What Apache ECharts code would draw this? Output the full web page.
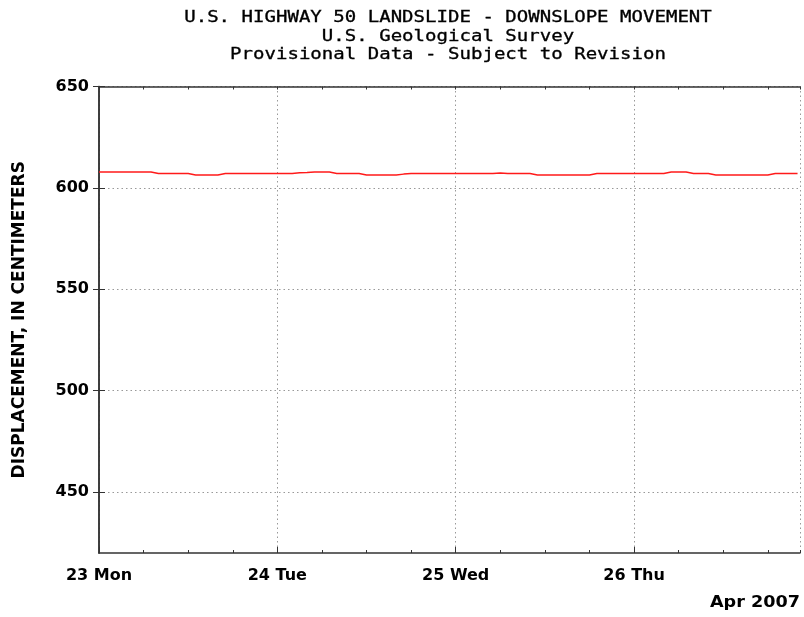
<!DOCTYPE html>
<html>
<head>
<meta charset="utf-8">
<title>U.S. Highway 50 Landslide - Downslope Movement</title>
<script src="https://cdn.jsdelivr.net/npm/echarts@6/dist/echarts.min.js"></script>
<style>
  html, body { margin: 0; padding: 0; background: #fff; }
  #chart { width: 804px; height: 617px; }
</style>
</head>
<body>
<div id="chart"></div>
<script>
// Hourly readings starting 23 Apr 2007 00:00 (index = hours since start)
const startLabel = '2007-04-23 00:00';
const displacementCm = [
  607.8, 607.8, 607.8, 607.8, 607.8, 607.8, 607.8, 607.8,
  607.1, 607.1, 607.1, 607.1, 607.1,
  606.4, 606.4, 606.4, 606.4,
  607.1, 607.1, 607.1, 607.1, 607.1, 607.1, 607.1, 607.1, 607.1, 607.1,
  607.5, 607.6,
  607.8, 607.8, 607.8,
  607.1, 607.1, 607.1, 607.1,
  606.4, 606.4, 606.4, 606.4, 606.4,
  606.8,
  607.1, 607.1, 607.1, 607.1, 607.1, 607.1, 607.1, 607.1, 607.1, 607.1, 607.1, 607.1,
  607.4,
  607.1, 607.1, 607.1, 607.1,
  606.4, 606.4, 606.4, 606.4, 606.4, 606.4, 606.4, 606.4,
  607.1, 607.1, 607.1, 607.1, 607.1, 607.1, 607.1, 607.1, 607.1, 607.1,
  607.8, 607.8, 607.8,
  607.1, 607.1, 607.1,
  606.4, 606.4, 606.4, 606.4, 606.4, 606.4, 606.4, 606.4,
  607.1, 607.1, 607.1, 607.1
];
const dayLabels = ['23 Mon', '24 Tue', '25 Wed', '26 Thu'];
const yTickValues = [450, 500, 550, 600, 650];
const titleLines = [
  'U.S. HIGHWAY 50 LANDSLIDE - DOWNSLOPE MOVEMENT',
  'U.S. Geological Survey',
  'Provisional Data - Subject to Revision'
];
const monthLabel = 'Apr 2007';
const yAxisTitle = 'DISPLACEMENT, IN CENTIMETERS';

const xMaxHours = 94.33;   // window ends 26 Apr ~22:20
const yMin = 420, yMax = 650;

const seriesData = displacementCm.map((v, h) => [h, v]);

const labelFont = { fontFamily: 'DejaVu Sans', fontWeight: 'bold', fontSize: 16, color: '#000' };
const dotted = { color: '#999', width: 1, type: [1.5, 3] };
const frame = { color: '#333', width: 1.5 };

const chart = echarts.init(document.getElementById('chart'), null, { renderer: 'canvas' });

const titleGraphics = titleLines.map((t, i) => ({
  type: 'text',
  x: 448,
  y: 18.5 + i * 18.3,
  scaleX: 1.27,
  style: {
    text: t,
    font: '15px "DejaVu Sans Mono"',
    fill: '#000',
    stroke: '#000',
    lineWidth: 0.3,
    align: 'center',
    verticalAlign: 'middle'
  }
}));

chart.setOption({
  animation: false,
  backgroundColor: '#fff',
  grid: { left: 99, right: 4, top: 86.5, bottom: 64, containLabel: false },
  xAxis: [
    {
      type: 'value', position: 'bottom', min: 0, max: xMaxHours, interval: 24,
      axisLine: { show: true, lineStyle: frame },
      axisTick: { show: true, inside: true, length: 6, lineStyle: { color: '#333', width: 1 } },
      axisLabel: {
        ...labelFont, margin: 15, showMaxLabel: false,
        formatter: v => (v % 24 === 0 && dayLabels[v / 24]) ? dayLabels[v / 24] : ''
      },
      splitLine: { show: true, lineStyle: dotted }
    },
    {
      type: 'value', position: 'bottom', min: 0, max: xMaxHours, interval: 6,
      axisLine: { show: false },
      axisTick: { show: true, inside: true, length: 3, lineStyle: { color: '#333', width: 1 } },
      axisLabel: { show: false },
      splitLine: { show: false }
    },
    {
      type: 'value', position: 'top', min: 0, max: xMaxHours, interval: 6,
      axisLine: { show: true, lineStyle: frame },
      axisTick: { show: true, inside: true, length: 3, lineStyle: { color: '#333', width: 1 } },
      axisLabel: { show: false },
      splitLine: { show: false }
    }
  ],
  yAxis: [
    {
      type: 'value', position: 'left', min: yMin, max: yMax,
      name: yAxisTitle, nameLocation: 'middle', nameRotate: 90, nameGap: 71,
      nameTextStyle: { ...labelFont, fontSize: 17 },
      axisLine: { show: true, lineStyle: frame },
      axisTick: { show: true, inside: true, length: 6, customValues: yTickValues, lineStyle: { color: '#333', width: 1 } },
      axisLabel: { ...labelFont, margin: 10, customValues: yTickValues },
      splitLine: { show: true, lineStyle: dotted }
    },
    {
      type: 'value', position: 'right', min: yMin, max: yMax,
      axisLine: { show: true, lineStyle: frame },
      axisTick: { show: true, inside: true, length: 6, customValues: yTickValues, lineStyle: { color: '#333', width: 1 } },
      axisLabel: { show: false },
      splitLine: { show: false }
    }
  ],
  series: [
    {
      name: 'Downslope movement',
      type: 'line',
      xAxisIndex: 0,
      yAxisIndex: 0,
      data: seriesData,
      showSymbol: false,
      lineStyle: { color: '#ff1a1a', width: 1.5 },
      clip: true
    }
  ],
  graphic: [
    ...titleGraphics,
    {
      type: 'text',
      x: 800,
      y: 603,
      scaleX: 1.1,
      style: {
        text: monthLabel,
        font: 'bold 16px "DejaVu Sans"',
        fill: '#000',
        align: 'right',
        verticalAlign: 'middle'
      }
    }
  ]
});
</script>
</body>
</html>
